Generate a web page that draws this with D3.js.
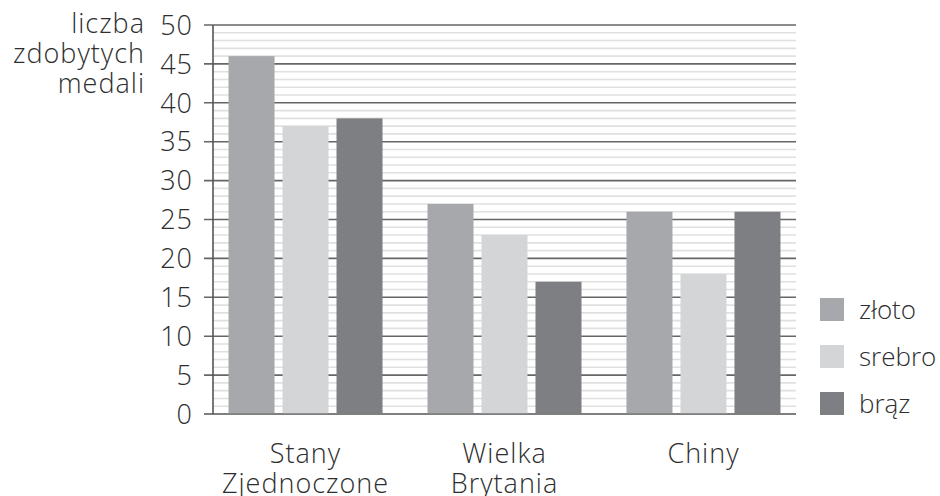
<!DOCTYPE html>
<html lang="pl">
  <head>
    <meta charset="UTF-8" />
    <title>medale</title>
    <script src="https://d3js.org/d3.v7.min.js"></script>
    <style>
      body { margin: 0; background: #fff; }
      text { font-family: "Open Sans", sans-serif; font-weight: 300; fill: #2e2e2e; letter-spacing: 1px; }
      .legend text { letter-spacing: 0; }
    </style>
  </head>
  <body>
    <svg id="chart" width="940" height="496"></svg>
    <script>
      const countries = [["Stany", "Zjednoczone"], ["Wielka", "Brytania"], ["Chiny"]];
      const series = ["złoto", "srebro", "brąz"];
      const zloto = [46, 27, 26];
      const srebro = [37, 23, 18];
      const braz = [38, 17, 26];
      const yTicks = [0, 5, 10, 15, 20, 25, 30, 35, 40, 45, 50];
      const yTitle = ["liczba", "zdobytych", "medali"];

      const values = [zloto, srebro, braz];
      const colors = ["#a7a8ab", "#d4d5d7", "#7e7f83"];

      const svg = d3.select("#chart");
      const plotLeft = 213, plotRight = 796, plotTop = 25, plotBottom = 414;
      const fs = 27;

      const y = d3.scaleLinear().domain([0, 50]).range([plotBottom, plotTop]);
      const x0 = d3.scaleBand()
        .domain(d3.range(countries.length))
        .range([plotLeft, plotRight])
        .paddingInner(0.226)
        .paddingOuter(0.078);
      const x1 = d3.scaleBand()
        .domain(d3.range(series.length))
        .range([0, x0.bandwidth()])
        .paddingInner(0.148);

      // minor grid every 1
      svg.append("g")
        .selectAll("line")
        .data(d3.range(1, 50).filter((v) => v % 5 !== 0))
        .join("line")
        .attr("x1", plotLeft).attr("x2", plotRight)
        .attr("y1", (d) => y(d)).attr("y2", (d) => y(d))
        .attr("stroke", "#e0e0e0")
        .attr("stroke-width", 1.6);

      // major grid + ticks
      svg.append("g")
        .selectAll("line")
        .data(yTicks)
        .join("line")
        .attr("x1", plotLeft - 9).attr("x2", plotRight)
        .attr("y1", (d) => y(d)).attr("y2", (d) => y(d))
        .attr("stroke", (d) => (d === 0 ? "#555" : "#666"))
        .attr("stroke-width", 1.6);

      svg.append("line")
        .attr("x1", plotLeft).attr("x2", plotLeft)
        .attr("y1", plotTop).attr("y2", plotBottom)
        .attr("stroke", "#555")
        .attr("stroke-width", 1.6);

      svg.append("g")
        .selectAll("text")
        .data(yTicks)
        .join("text")
        .attr("x", 193)
        .attr("y", (d) => y(d))
        .attr("dy", "0.36em")
        .attr("text-anchor", "end")
        .attr("font-size", fs)
        .text((d) => d);

      svg.append("text")
        .attr("text-anchor", "end")
        .attr("font-size", fs)
        .selectAll("tspan")
        .data(yTitle)
        .join("tspan")
        .attr("x", 145)
        .attr("y", (d, i) => 33 + i * 30)
        .text((d) => d);

      // bars
      const groups = svg.append("g")
        .selectAll("g")
        .data(countries.map((c, i) => i))
        .join("g")
        .attr("transform", (i) => `translate(${x0(i)},0)`);

      groups.selectAll("rect")
        .data((i) => values.map((v, s) => ({ s, v: v[i] })))
        .join("rect")
        .attr("x", (d) => x1(d.s))
        .attr("width", x1.bandwidth())
        .attr("y", (d) => y(d.v))
        .attr("height", (d) => y(0) - y(d.v) - 0.8)
        .attr("fill", (d) => colors[d.s]);

      // category labels
      svg.append("g")
        .selectAll("text")
        .data(countries)
        .join("text")
        .attr("text-anchor", "middle")
        .attr("font-size", fs)
        .each(function (lines, i) {
          d3.select(this)
            .selectAll("tspan")
            .data(lines)
            .join("tspan")
            .attr("x", x0(i) + x0.bandwidth() / 2)
            .attr("y", (d, j) => 463 + j * 30)
            .text((d) => d);
        });

      // legend
      const legend = svg.append("g")
        .attr("class", "legend")
        .selectAll("g")
        .data(series)
        .join("g")
        .attr("transform", (d, i) => `translate(820,${298 + i * 47})`);
      legend.append("rect")
        .attr("width", 24).attr("height", 23)
        .attr("fill", (d, i) => colors[i]);
      legend.append("text")
        .attr("x", 39).attr("y", 12)
        .attr("dy", "0.36em")
        .attr("font-size", 26)
        .text((d) => d);
    </script>
  </body>
</html>
